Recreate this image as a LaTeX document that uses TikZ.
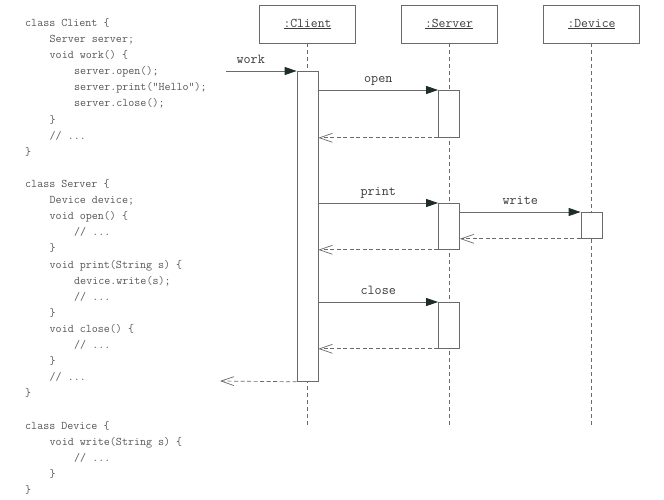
\documentclass[tikz,border=0pt]{standalone}
\usetikzlibrary{arrows.meta}

\definecolor{linegray}{HTML}{6A6A6A}
\definecolor{inkgray}{HTML}{3A3A3A}
\definecolor{headink}{HTML}{1E2C2C}

\tikzset{
  obj/.style={draw=linegray, line width=0.8pt, minimum width=96pt, minimum height=38pt,
    inner sep=0pt, text=inkgray, font=\fontsize{13.3}{15}\selectfont\ttfamily},
  act/.style={draw=linegray, line width=0.8pt, fill=white, minimum width=21pt, inner sep=0pt, anchor=north},
  lifeline/.style={draw=linegray, line width=0.7pt, dash pattern=on 4pt off 3pt},
  call/.style={draw=linegray, line width=0.8pt, -{Triangle[length=12pt,width=8pt,color=headink]}},
  reply/.style={draw=linegray, line width=0.7pt, dash pattern=on 4pt off 2.5pt,
    -{Straight Barb[length=13pt,width=9pt]}},
  msg/.style={text=inkgray, font=\fontsize{13.7}{15}\selectfont\ttfamily, inner sep=2pt,
    text height=9pt, text depth=3pt},
  code/.style={text=inkgray!85, font=\fontsize{11.7}{13}\selectfont\ttfamily, inner sep=0pt, anchor=base west},
}

\begin{document}
\begin{tikzpicture}[x=1pt, y=-1pt]
\useasboundingbox (0,0) rectangle (664,500);

% source code
\foreach \n/\lvl/\txt in {
  0/0/class Client \{, 1/1/Server server;, 2/1/void work() \{, 3/2/server.open();,
  4/2/server.print("Hello");, 5/2/server.close();, 6/1/\}, 7/1/{// ...}, 8/0/\},
  10/0/class Server \{, 11/1/Device device;, 12/1/void open() \{, 13/2/{// ...}, 14/1/\},
  15/1/void print(String s) \{, 16/2/device.write(s);, 17/2/{// ...}, 18/1/\},
  19/1/void close() \{, 20/2/{// ...}, 21/1/\}, 22/1/{// ...}, 23/0/\},
  25/0/class Device \{, 26/1/void write(String s) \{, 27/2/{// ...}, 28/1/\}, 29/0/\}}
  \node[code] (line\n) at (25+24.5*\lvl, 26.5+16.1*\n) {\txt};

% objects
\node[obj] (client) at (307.5,24) {\underline{:Client}};
\node[obj] (server) at (449,24) {\underline{:Server}};
\node[obj] (device) at (591.5,24) {\underline{:Device}};

% lifelines
\coordinate (cbot) at (307.5,428);
\coordinate (sbot) at (449,428);
\coordinate (dbot) at (591.5,428);
\draw[lifeline] (client) -- (cbot);
\draw[lifeline] (server) -- (sbot);
\draw[lifeline] (device) -- (dbot);

% activations
\node[act, minimum height=310pt] (cwork) at (307.5,71) {};
\node[act, minimum height=47pt] (sopen) at (449,90) {};
\node[act, minimum height=46pt] (sprint) at (449,203) {};
\node[act, minimum height=26pt] (dwrite) at (591.5,212) {};
\node[act, minimum height=46pt] (sclose) at (449,302) {};

% messages
\coordinate (caller) at (226,71);
\coordinate (back) at (220,381);
\draw[call] (caller) -- node[msg, above=2pt, pos=.35] {work} (cwork.north west);
\draw[call] (cwork.east |- sopen.north) -- node[msg, above=2pt] {open} (sopen.north west);
\draw[reply] (sopen.south west) -- (cwork.east |- sopen.south);
\draw[call] (cwork.east |- sprint.north) -- node[msg, above=2pt] {print} (sprint.north west);
\draw[call] (sprint.east |- dwrite.north) -- node[msg, above=2pt] {write} (dwrite.north west);
\draw[reply] (dwrite.south west) -- (sprint.east |- dwrite.south);
\draw[reply] (sprint.south west) -- (cwork.east |- sprint.south);
\draw[call] (cwork.east |- sclose.north) -- node[msg, above=2pt] {close} (sclose.north west);
\draw[reply] (sclose.south west) -- (cwork.east |- sclose.south);
\draw[reply] (cwork.south west) -- (back);
\end{tikzpicture}
\end{document}
